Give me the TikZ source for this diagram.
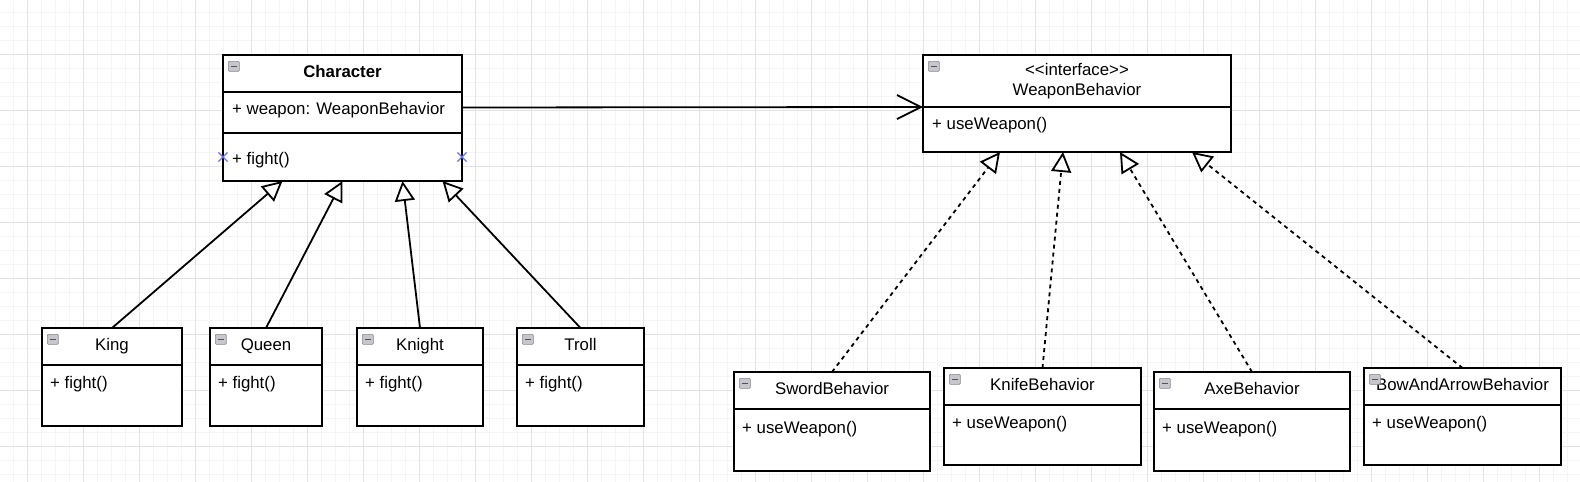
\documentclass[tikz,border=0pt]{standalone}
\usepackage{fontspec}
\setmainfont{Liberation Sans}
\usetikzlibrary{arrows.meta,positioning,shapes.misc}
\definecolor{gridmaj}{RGB}{226,226,226}
\definecolor{gridmin}{RGB}{245,245,245}
\definecolor{iconfill}{RGB}{198,198,204}
\definecolor{iconline}{RGB}{135,135,145}
\definecolor{selblue}{RGB}{105,115,240}
\newcommand{\umlfont}{\fontsize{16.8pt}{20pt}\selectfont}

\begin{document}
\begin{tikzpicture}[
  x=1pt, y=-1pt,
  every node/.style={font=\umlfont},
  cls/.style={draw, line width=2pt, fill=white, outer sep=0pt, inner sep=0pt},
  hdr/.style={cls, anchor=north west, minimum height=37pt, text height=12pt, text depth=3.5pt},
  mem/.style={inner sep=0pt, anchor=base west},
  ico/.style={draw=iconline, fill=iconfill, rounded corners=1pt, line width=0.6pt,
              minimum width=11pt, minimum height=10pt, inner sep=0pt, anchor=north west,
              path picture={\draw[iconline!60!black, line width=1.3pt]
                ([xshift=2.5pt]path picture bounding box.west) --
                ([xshift=-2.5pt]path picture bounding box.east);}},
  selx/.style={cross out, draw=selblue, line width=1.1pt, minimum size=8pt, inner sep=0pt},
  inh/.style={line width=1.8pt, -{Triangle[length=20pt, width=20pt, fill=white]}},
  real/.style={inh, dash pattern=on 4pt off 4pt},
  assoc/.style={line width=1.8pt, -{Straight Barb[length=24pt, width=24pt]}}
]
\useasboundingbox (0,0) rectangle (1580,482);
\fill[white] (0,0) rectangle (1580,482);

% grid
\foreach \x in {13,27,...,1580} \draw[gridmin, line width=1pt] (\x,0) -- (\x,482);
\foreach \y in {12,26,...,482} \draw[gridmin, line width=1pt] (0,\y) -- (1580,\y);
\foreach \x in {27,83,...,1580} \draw[gridmaj, line width=1pt] (\x,0) -- (\x,482);
\foreach \y in {-2,54,...,482} \draw[gridmaj, line width=1pt] (0,\y) -- (1580,\y);

% Character
\node[hdr, font=\umlfont\bfseries, minimum width=239pt] (chr) at (223,55) {Character};
\node[cls, minimum width=239pt, minimum height=41pt, below=0pt of chr] (chr-a) {};
\node[cls, minimum width=239pt, minimum height=48pt, below=0pt of chr-a] (chr-o) {};
\node[below right=22pt and 9pt of chr-a.north west, mem] (chr-am) {+ weapon: WeaponBehavior};
\node[below right=31pt and 9pt of chr-o.north west, mem] (chr-om) {+ fight()};

% interface
\node[cls, anchor=north west, align=center, minimum width=308pt, minimum height=52pt] (iface) at (923,55)
  {\textless\kern0pt\textless interface\textgreater\kern0pt\textgreater\\WeaponBehavior};
\node[cls, minimum width=308pt, minimum height=45pt, below=0pt of iface] (iface-b) {};
\node[below right=22pt and 9pt of iface-b.north west, mem] (iface-m) {+ useWeapon()};

% characters
\node[hdr, minimum width=140pt] (king) at (42,328) {King};
\node[cls, minimum width=140pt, minimum height=61pt, below=0pt of king] (king-b) {};
\node[below right=23pt and 8pt of king-b.north west, mem] (king-m) {+ fight()};

\node[hdr, minimum width=112pt] (queen) at (210,328) {Queen};
\node[cls, minimum width=112pt, minimum height=61pt, below=0pt of queen] (queen-b) {};
\node[below right=23pt and 8pt of queen-b.north west, mem] (queen-m) {+ fight()};

\node[hdr, minimum width=126pt] (knight) at (357,328) {Knight};
\node[cls, minimum width=126pt, minimum height=61pt, below=0pt of knight] (knight-b) {};
\node[below right=23pt and 8pt of knight-b.north west, mem] (knight-m) {+ fight()};

\node[hdr, minimum width=127pt] (troll) at (517,328) {Troll};
\node[cls, minimum width=127pt, minimum height=61pt, below=0pt of troll] (troll-b) {};
\node[below right=23pt and 8pt of troll-b.north west, mem] (troll-m) {+ fight()};

% behaviors
\node[hdr, minimum width=196pt] (sword) at (734,372) {SwordBehavior};
\node[cls, minimum width=196pt, minimum height=62pt, below=0pt of sword] (sword-b) {};
\node[below right=24pt and 8pt of sword-b.north west, mem] (sword-m) {+ useWeapon()};

\node[hdr, minimum width=197pt] (knife) at (944,368) {KnifeBehavior};
\node[cls, minimum width=197pt, minimum height=60pt, below=0pt of knife] (knife-b) {};
\node[below right=23pt and 8pt of knife-b.north west, mem] (knife-m) {+ useWeapon()};

\node[hdr, minimum width=196pt] (axe) at (1154,372) {AxeBehavior};
\node[cls, minimum width=196pt, minimum height=62pt, below=0pt of axe] (axe-b) {};
\node[below right=24pt and 8pt of axe-b.north west, mem] (axe-m) {+ useWeapon()};

\node[hdr, minimum width=197pt] (bow) at (1364,368) {BowAndArrowBehavior};
\node[cls, minimum width=197pt, minimum height=60pt, below=0pt of bow] (bow-b) {};
\node[below right=23pt and 8pt of bow-b.north west, mem] (bow-m) {+ useWeapon()};

% collapse icons
\foreach \c in {chr,iface,king,queen,knight,troll,sword,knife,axe,bow}
  \node[ico] (\c-ico) at ([shift={(5pt,-6pt)}]\c.north west) {};

% selection marks
\node[selx] (selx-l) at (chr-o.west) {};
\node[selx] (selx-r) at (chr-o.east) {};

% connectors
\draw[assoc] ([yshift=5pt]chr-a.east) -- (iface.south west);
\draw[inh] (king.north) -- ([xshift=-60pt]chr-o.south);
\draw[inh] (queen.north) -- (chr-o.south);
\draw[inh] (knight.north) -- ([xshift=60pt]chr-o.south);
\draw[inh] (troll.north) -- ([xshift=100pt]chr-o.south);
\draw[real] (sword.north) -- ([xshift=-77pt]iface-b.south);
\draw[real] (knife.north) -- ([xshift=-14pt]iface-b.south);
\draw[real] (axe.north) -- ([xshift=43pt]iface-b.south);
\draw[real] (bow.north) -- ([xshift=115pt]iface-b.south);
\end{tikzpicture}
\end{document}
